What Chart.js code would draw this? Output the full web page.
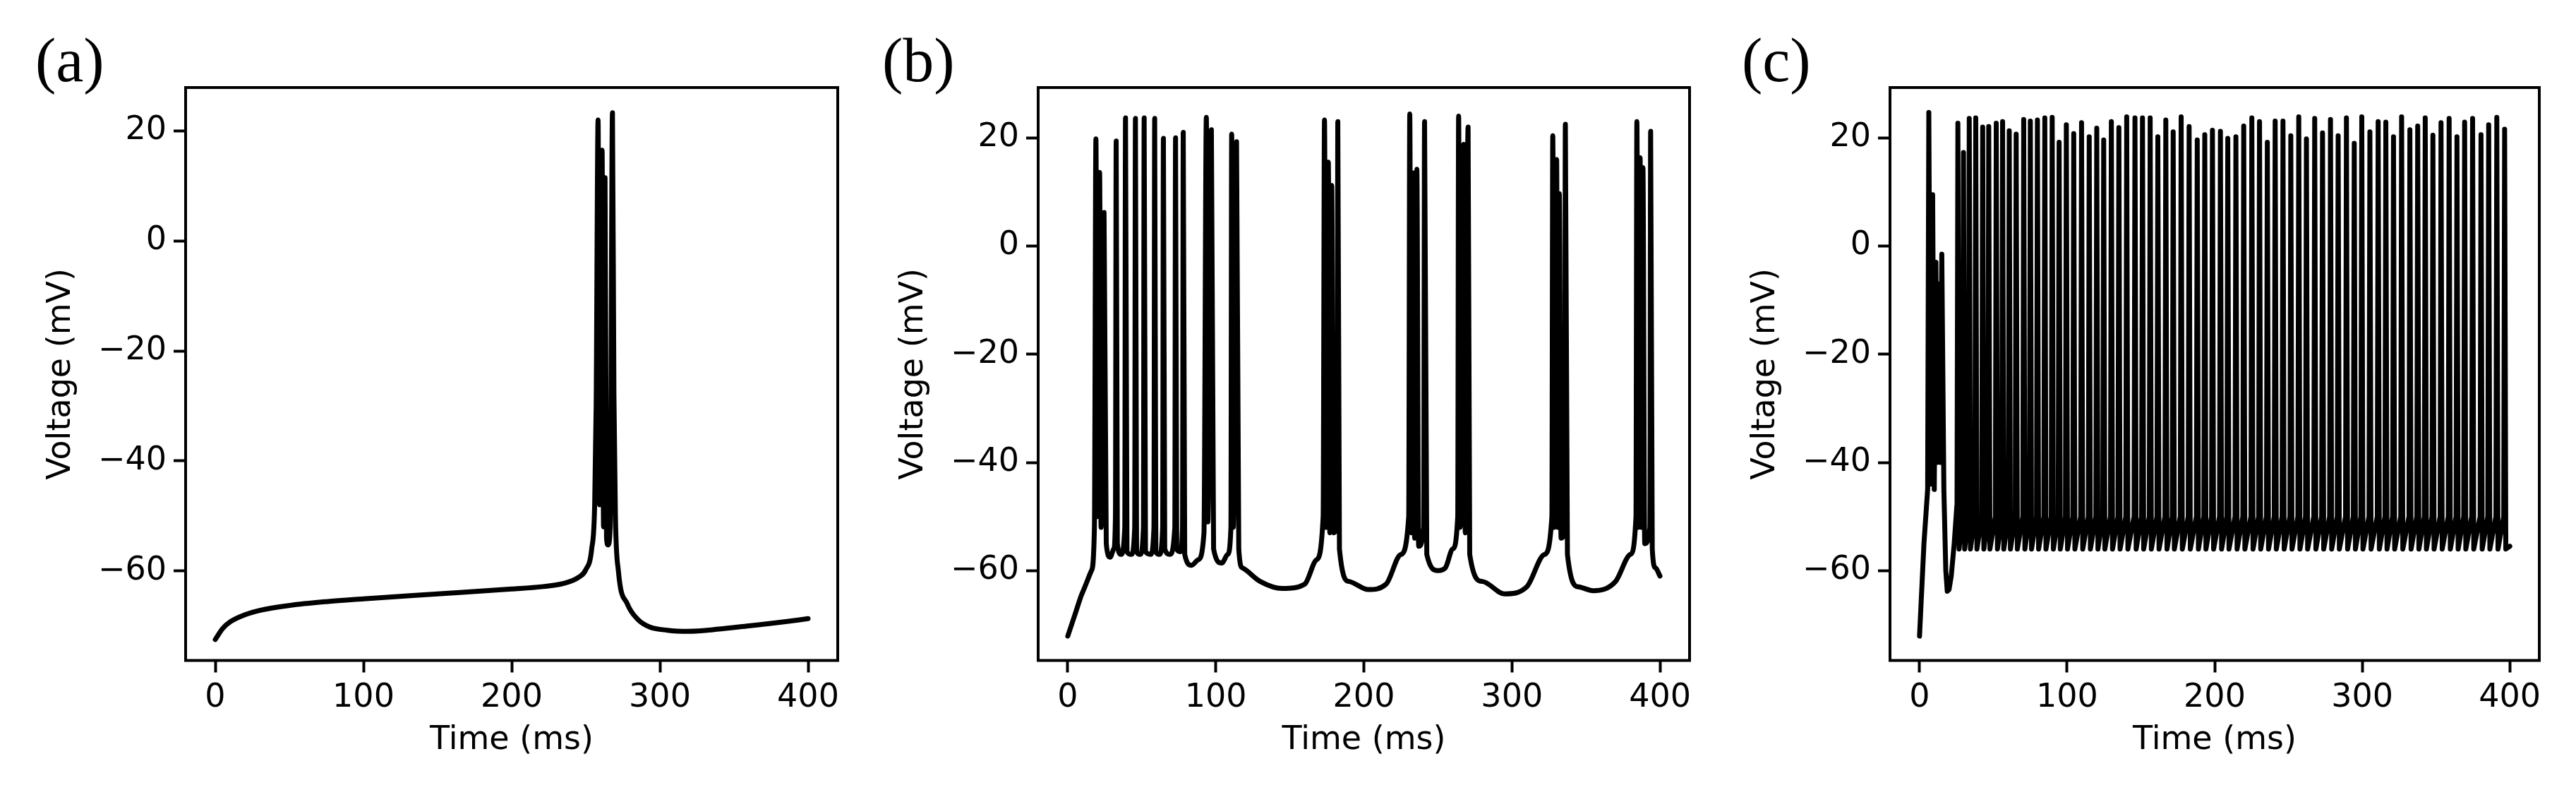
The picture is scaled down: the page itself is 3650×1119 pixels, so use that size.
<!DOCTYPE html>
<html><head><meta charset="utf-8">
<script src="https://cdn.jsdelivr.net/npm/chart.js@4"></script>
<style>
html,body{margin:0;padding:0;background:#fff;width:3650px;height:1119px;overflow:hidden}
.pnl{position:absolute;top:0;height:1119px}
.lab{position:absolute;font-family:"Liberation Serif",serif;font-size:88px;color:#000;line-height:1;top:42px}
</style></head><body>
<div class="lab" style="left:50px">(a)</div>
<div class="lab" style="left:1250px">(b)</div>
<div class="lab" style="left:2468px">(c)</div>
<div class="pnl" id="pa" style="left:59px;width:1148px"><canvas id="ca"></canvas></div>
<div class="pnl" id="pb" style="left:1267px;width:1147px"><canvas id="cb"></canvas></div>
<div class="pnl" id="pc" style="left:2474px;width:1144px"><canvas id="cc"></canvas></div>
<script>
// ---- data ----
const xTicks = [0, 100, 200, 300, 400];
const yTicks = [-60, -40, -20, 0, 20];
const xLabel = "Time (ms)";
const yLabel = "Voltage (mV)";

// panel (a)
const aT = [0,5,10,20,30,50,75,100,150,200,220,235,245,250,254,256,257,258.3,259.3,261,262,263,264,265,266.5,268,269,270,272,278,285,293,305,319,340,360,380,400];
const aV = [-72.5,-70.5,-69.3,-68,-67.2,-66.3,-65.6,-65.1,-64.2,-63.3,-62.9,-62.3,-61.2,-59.8,-56,-48,-30,22,-48,16.5,-52,11.5,-54,-55.3,-52,23.3,-28,-50,-60,-66,-68.8,-70.2,-70.8,-71,-70.6,-70,-69.4,-68.7];

// panel (b)
const bT = [0,5,10,16,18,19,20,21.5,22.5,24.5,26,28.6,31,32.2,32.7,33.5,36,38.5,39,40,43,45.2,45.7,46.5,49,51.1,51.6,52.5,56,58.2,58.7,59.5,62,64.1,64.6,65.5,69,72.3,72.8,73.6,76,77.5,78,79,83.6,88,92,93.6,94.6,97,98.5,104,108,110.2,110.7,111.8,114,115.5,118,130,145,160,168,172.5,173.4,174.5,176,177,178.3,179.5,182,182.4,183.5,190,203,215,225,230.3,231,232,233.2,234.3,235.8,237,240.4,241,242.5,250,255,260,263.4,264,265,267.4,268.5,270.4,271.5,280,295,310,322,327,327.6,328.6,330.2,331,332,333.2,335.6,336.1,337.5,345,355,370,380,383.8,384.4,385.4,386.6,387.5,388.5,389.7,393.2,393.7,394.8,397,400];
const bV = [-72.1,-68,-64,-60,-52,19.8,-50,13.6,-52,6.2,-55,-57.5,-56,-50,19.4,-55,-57,-52,23.7,-56.5,-57,-52,23.6,-56.5,-57,-52,23.7,-56.5,-57,-52,23.6,-56.5,-57,-52,19.9,-56,-57,-52,20,-56,-56.5,-52,21,-57,-59,-58,-53,23.8,-51,21.5,-56,-58.6,-57,-52,20.7,-52,19.3,-56,-59.5,-62,-63.3,-62.5,-58,-50,23.3,-52,15.5,-53,11.2,-53,-50,23,-56,-62,-63.5,-62.5,-57,-50,24.4,-53,13.5,-54,14.2,-55.5,-52,23,-57,-60,-59.5,-56,-50,24,-52,18.8,-53,22,-57,-62,-64.3,-63,-57,-50,20.4,-52,16,-52,9.7,-54,-52,22.5,-57,-63,-63.7,-62,-57,-50,23,-52,16.3,-52,14.5,-55,-52,21.2,-56,-59.5,-61];

// panel (c): onset transient, then regular spike train
const cOnsetT = [0,3,5.5,6.3,7.5,8.9,10,11.1,12,12.9,14,15.1,16.5,17.8,18.8,20,21.5,23.5,25.3];
const cOnsetV = [-72.1,-55,-45,24.7,-44,9.5,-45,-3,-40,-7,-40,-1.5,-45,-60,-63.8,-63.5,-61,-55,-48];
const cSpikeT = [26.0,29.8,33.7,38.1,42.8,46.9,52.0,56.3,60.8,65.5,70.6,75.1,79.9,84.9,89.9,94.6,99.5,104.5,109.8,115.0,120.1,124.8,130.0,135.1,140.4,146.0,151.1,156.3,161.5,166.9,171.9,177.3,182.7,188.2,193.3,198.5,203.9,208.9,214.4,219.7,225.2,230.4,235.7,241.0,246.3,251.6,257.0,262.2,267.8,273.1,278.5,283.7,289.3,294.6,299.7,305.2,310.8,316.0,321.2,326.7,332.3,337.6,342.7,347.9,353.4,358.9,364.2,369.4,374.8,380.5,385.7,391.2,396.5];
const cSpikePeak = [22.7,17.3,23.6,23.7,22.0,22.1,22.7,23.0,21.3,20.7,23.4,23.1,23.3,23.7,23.8,19.2,22.4,20.8,22.8,20.2,21.8,19.6,23.0,21.9,23.9,23.7,23.7,23.7,20.2,23.3,21.1,23.9,22.1,19.6,20.6,21.4,21.2,19.9,20.2,22.2,23.7,23.0,19.2,23.1,23.1,20.4,23.9,19.8,23.6,20.9,23.4,20.4,23.7,19.0,23.9,21.1,23.0,22.9,20.2,23.9,21.5,22.2,23.7,20.5,22.8,23.6,20.2,22.9,23.6,20.6,22.4,23.8,21.6];
const cThreshold = -50;   // voltage just before each upstroke
const cTrough = -56;      // after-spike trough
const cEnd = [400, -55.5];

// ---- build ----
function pts(T, V){ return T.map((t,i)=>({x:t,y:V[i]})); }
const cPts = pts(cOnsetT, cOnsetV);
cSpikeT.forEach((t,i)=>{
  cPts.push({x:t-0.6,y:cThreshold},{x:t,y:cSpikePeak[i]},{x:t+0.8,y:cTrough});
});
cPts.push({x:cEnd[0],y:cEnd[1]});

const frame = {id:'frame', afterDraw(ch){const a=ch.chartArea,c=ch.ctx;c.save();c.strokeStyle='#000';c.lineWidth=4;c.strokeRect(a.left,a.top,a.right-a.left,a.bottom-a.top);c.restore();}};
const minus = v => String(v).replace('-','\u2212');

function make(id, data, yMin, yMax, mono){
  const font = {family:'"DejaVu Sans"', size:46};
  return new Chart(document.getElementById(id), {
    type:'line',
    data:{datasets:[{data, borderColor:'#000', borderWidth:7, pointRadius:0, fill:false,
      borderJoinStyle:'round', borderCapStyle:'round',
      cubicInterpolationMode: mono ? 'monotone' : 'default', tension:0}]},
    options:{
      responsive:true, maintainAspectRatio:false, animation:false, devicePixelRatio:1,
      layout:{padding:{top:124,right:20,bottom:0,left:0}},
      plugins:{legend:{display:false}, tooltip:{enabled:false}},
      scales:{
        x:{type:'linear', min:-20, max:420,
          afterBuildTicks(s){s.ticks = xTicks.map(v=>({value:v}));},
          afterFit(s){s.height=183.5;},
          grid:{display:true, drawOnChartArea:false, drawTicks:true, tickLength:17, tickWidth:4, color:'#000'},
          border:{display:false},
          ticks:{font, color:'#000', padding:9, maxRotation:0, callback:v=>minus(v)},
          title:{display:true, text:xLabel, font, color:'#000', padding:{top:0,bottom:42}}},
        y:{type:'linear', min:yMin, max:yMax,
          afterBuildTicks(s){s.ticks = yTicks.map(v=>({value:v}));},
          afterFit(s){s.width=204;},
          grid:{display:true, drawOnChartArea:false, drawTicks:true, tickLength:17, tickWidth:4, color:'#000'},
          border:{display:false},
          ticks:{font, color:'#000', padding:10, callback:v=>minus(v)},
          title:{display:true, text:yLabel, font, color:'#000', padding:{top:0,bottom:0}}}
      }
    },
    plugins:[frame]
  });
}
make('ca', pts(aT,aV), -76.3, 27.9, true);
make('cb', pts(bT,bV), -76.6, 29.3, true);
make('cc', cPts, -76.6, 29.3, false);
</script>
</body></html>
